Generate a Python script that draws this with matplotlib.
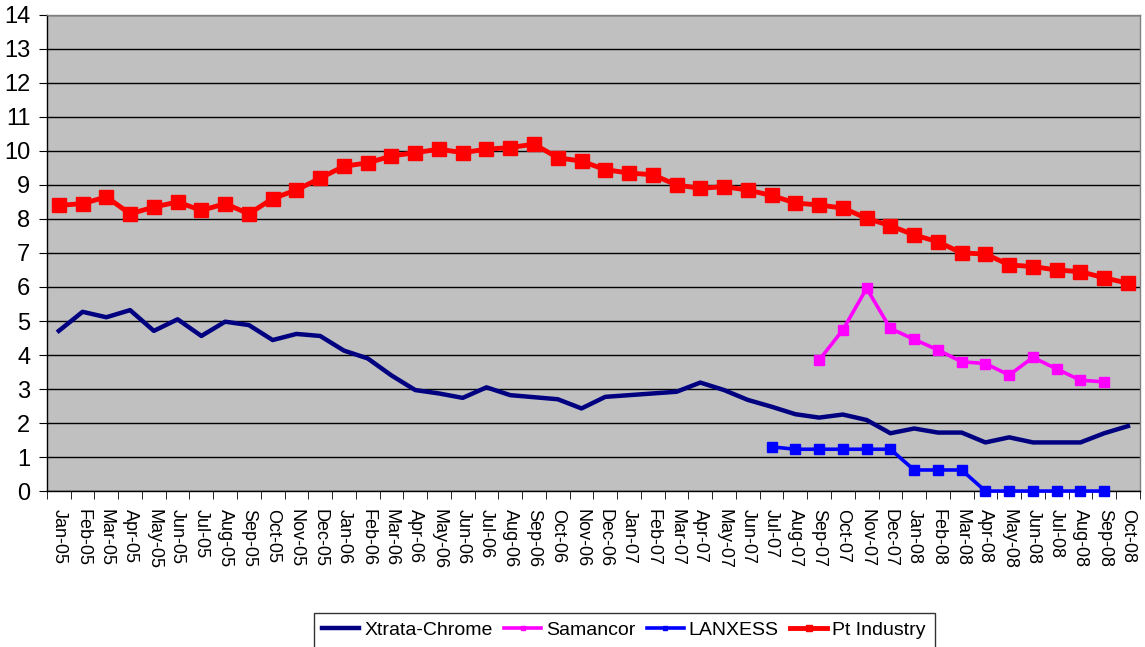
import numpy as np
import matplotlib.pyplot as plt

months = ["Jan", "Feb", "Mar", "Apr", "May", "Jun", "Jul", "Aug", "Sep", "Oct", "Nov", "Dec"]
labels = [f"{m}-{y:02d}" for y in (5, 6, 7, 8) for m in months][:46]

xtrata = [4.71, 5.27, 5.11, 5.32, 4.71, 5.05, 4.56, 4.98, 4.88, 4.44, 4.62, 4.56,
          4.13, 3.90, 3.40, 2.97, 2.87, 2.74, 3.05, 2.82, 2.76, 2.70, 2.43, 2.77,
          2.82, 2.87, 2.92, 3.19, 2.97, 2.68, 2.48, 2.26, 2.16, 2.25, 2.09, 1.70,
          1.84, 1.72, 1.72, 1.43, 1.58, 1.43, 1.43, 1.43, 1.70, 1.91]

# Samancor: Sep-07 .. Sep-08
samancor = [3.85, 4.74, 5.96, 4.78, 4.46, 4.15, 3.80, 3.75, 3.41, 3.93, 3.59, 3.26, 3.21]
samancor_start = 32

# LANXESS: Jul-07 .. Sep-08
lanxess = [1.30, 1.23, 1.23, 1.23, 1.23, 1.23, 0.62, 0.62, 0.62, 0.0, 0.0, 0.0, 0.0, 0.0, 0.0]
lanxess_start = 30

pt_industry = [8.40, 8.45, 8.65, 8.15, 8.35, 8.50, 8.25, 8.45, 8.15, 8.60, 8.85, 9.20,
               9.55, 9.65, 9.85, 9.95, 10.05, 9.95, 10.05, 10.10, 10.20, 9.80, 9.70, 9.45,
               9.35, 9.30, 9.00, 8.90, 8.95, 8.85, 8.69, 8.47, 8.41, 8.32, 8.02, 7.80,
               7.53, 7.33, 7.00, 6.97, 6.65, 6.60, 6.50, 6.45, 6.27, 6.11]

plt.rcParams["font.family"] = ["Liberation Sans", "DejaVu Sans"]

fig = plt.figure(figsize=(11.45, 6.47), dpi=100)
ax = fig.add_axes([0.041, 0.241, 0.9545, 0.736])
ax.set_facecolor("#C0C0C0")

x = np.arange(len(labels))
ax.plot(x, xtrata, color="#000080", lw=3.2, label="Xtrata-Chrome", zorder=3)
ax.plot(x[samancor_start:samancor_start + len(samancor)], samancor, color="#FF00FF",
        lw=2.6, marker="s", ms=7.5, label="Samancor", zorder=3)
ax.plot(x[lanxess_start:lanxess_start + len(lanxess)], lanxess, color="#0000FF",
        lw=2.6, marker="s", ms=7, label="LANXESS", zorder=3, clip_on=False)
ax.plot(x, pt_industry, color="#FF0000", lw=3.5, marker="s", ms=9.5,
        label="Pt Industry", zorder=4)

ax.set_xlim(-0.5, len(labels) - 0.5)
ax.set_ylim(0, 14)
ax.set_yticks(range(0, 15))
ax.yaxis.grid(True, color="black", lw=1)
ax.set_axisbelow(True)

ax.set_xticks(x)
ax.set_xticklabels(labels, rotation=270, fontsize=13)
ax.set_xticks(np.arange(-0.5, len(labels)), minor=True)
ax.tick_params(axis="x", which="major", length=0, pad=13)
ax.tick_params(axis="x", which="minor", length=6, direction="out", color="black")
ax.tick_params(axis="y", length=6, direction="out", pad=6, labelsize=17)

for s in ("left", "bottom"):
    ax.spines[s].set_color("black")
    ax.spines[s].set_linewidth(1)
for s in ("right", "top"):
    ax.spines[s].set_color("#808080")
    ax.spines[s].set_linewidth(1)

leg = fig.legend(loc="upper center", bbox_to_anchor=(0.545, 0.068), ncol=4,
                 frameon=True, fancybox=False, edgecolor="black", handlelength=1.9,
                 handletextpad=0.25, columnspacing=0.6, borderpad=0.45,
                 fontsize=14, markerscale=0.45)
leg.get_frame().set_linewidth(1)

fig.savefig("out.png", dpi=100)
